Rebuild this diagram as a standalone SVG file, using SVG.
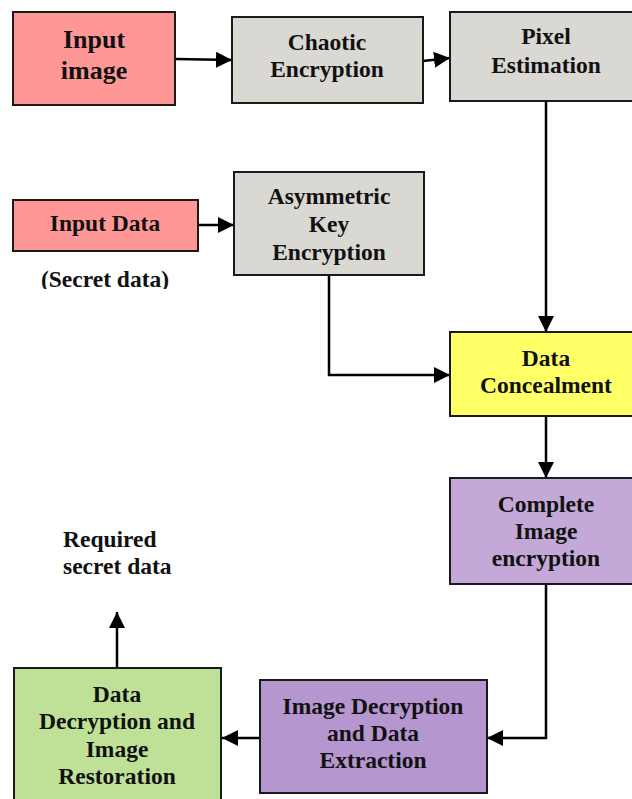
<svg xmlns="http://www.w3.org/2000/svg" width="632" height="799" viewBox="0 0 632 799">
  <style>
    .box { stroke: #1a1a1a; stroke-width: 2; }
    .lbl { font-family: "Liberation Serif", "Times New Roman", serif; font-weight: bold; font-size: 23.5px; fill: #111; text-anchor: middle; }
    .big { font-size: 26px; }
    .left { text-anchor: start; }
    .wire { fill: none; stroke: #000; stroke-width: 2.5; }
  </style>
  <defs>
    <marker id="head" viewBox="0 0 16 16" refX="16" refY="8" markerWidth="16" markerHeight="16" markerUnits="userSpaceOnUse" orient="auto">
      <path d="M0,0 L16,8 L0,16 z" fill="#000"/>
    </marker>
    <clipPath id="note-clip">
      <rect x="0" y="260" width="220" height="29"/>
    </clipPath>
  </defs>
  <rect width="632" height="799" fill="#fff"/>

  <g id="connectors">
    <path class="wire" d="M175,59 L232,60" marker-end="url(#head)"/>
    <path class="wire" d="M423,61 L450,58" marker-end="url(#head)"/>
    <path class="wire" d="M198,225 L234,225" marker-end="url(#head)"/>
    <path class="wire" d="M546,101 L546,332" marker-end="url(#head)"/>
    <path class="wire" d="M329,275 L329,375 L450,375" marker-end="url(#head)"/>
    <path class="wire" d="M546,416 L546,478" marker-end="url(#head)"/>
    <path class="wire" d="M546,584 L546,738 L487,738" marker-end="url(#head)"/>
    <path class="wire" d="M260,738 L222,738" marker-end="url(#head)"/>
    <path class="wire" d="M117,668 L117,612" marker-end="url(#head)"/>
  </g>

  <g id="input-image">
    <rect class="box" x="13" y="12" width="162" height="93" fill="#ff9797"/>
    <text class="lbl big" x="94" y="48">Input</text>
    <text class="lbl big" x="94" y="79">image</text>
  </g>

  <g id="chaotic-encryption">
    <rect class="box" x="232" y="17" width="191" height="86" fill="#d9d8d3"/>
    <text class="lbl" x="327" y="50">Chaotic</text>
    <text class="lbl" x="327" y="77">Encryption</text>
  </g>

  <g id="pixel-estimation">
    <rect class="box" x="450" y="12" width="190" height="89" fill="#d9d8d3"/>
    <text class="lbl" x="546" y="44">Pixel</text>
    <text class="lbl" x="546" y="73">Estimation</text>
  </g>

  <g id="input-data">
    <rect class="box" x="13" y="200" width="185" height="51" fill="#ff9797"/>
    <text class="lbl" x="105" y="231">Input Data</text>
    <text class="lbl" x="105" y="287" clip-path="url(#note-clip)">(Secret data)</text>
  </g>

  <g id="asymmetric-key-encryption">
    <rect class="box" x="234" y="172" width="190" height="103" fill="#d9d8d3"/>
    <text class="lbl" x="329" y="204">Asymmetric</text>
    <text class="lbl" x="329" y="232">Key</text>
    <text class="lbl" x="329" y="260">Encryption</text>
  </g>

  <g id="data-concealment">
    <rect class="box" x="450" y="332" width="190" height="84" fill="#ffff66"/>
    <text class="lbl" x="546" y="366">Data</text>
    <text class="lbl" x="546" y="393">Concealment</text>
  </g>

  <g id="complete-image-encryption">
    <rect class="box" x="450" y="478" width="190" height="106" fill="#c4a9d8"/>
    <text class="lbl" x="546" y="512">Complete</text>
    <text class="lbl" x="546" y="539">Image</text>
    <text class="lbl" x="546" y="566">encryption</text>
  </g>

  <g id="image-decryption">
    <rect class="box" x="260" y="680" width="227" height="113" fill="#b596cf"/>
    <text class="lbl" x="373" y="714">Image Decryption</text>
    <text class="lbl" x="373" y="741">and Data</text>
    <text class="lbl" x="373" y="768">Extraction</text>
  </g>

  <g id="data-decryption">
    <rect class="box" x="14" y="668" width="207" height="140" fill="#bfe197"/>
    <text class="lbl" x="117" y="702">Data</text>
    <text class="lbl" x="117" y="729">Decryption and</text>
    <text class="lbl" x="117" y="757">Image</text>
    <text class="lbl" x="117" y="784">Restoration</text>
  </g>

  <g id="required-secret-data">
    <text class="lbl left" x="63" y="547">Required</text>
    <text class="lbl left" x="63" y="574">secret data</text>
  </g>
</svg>
